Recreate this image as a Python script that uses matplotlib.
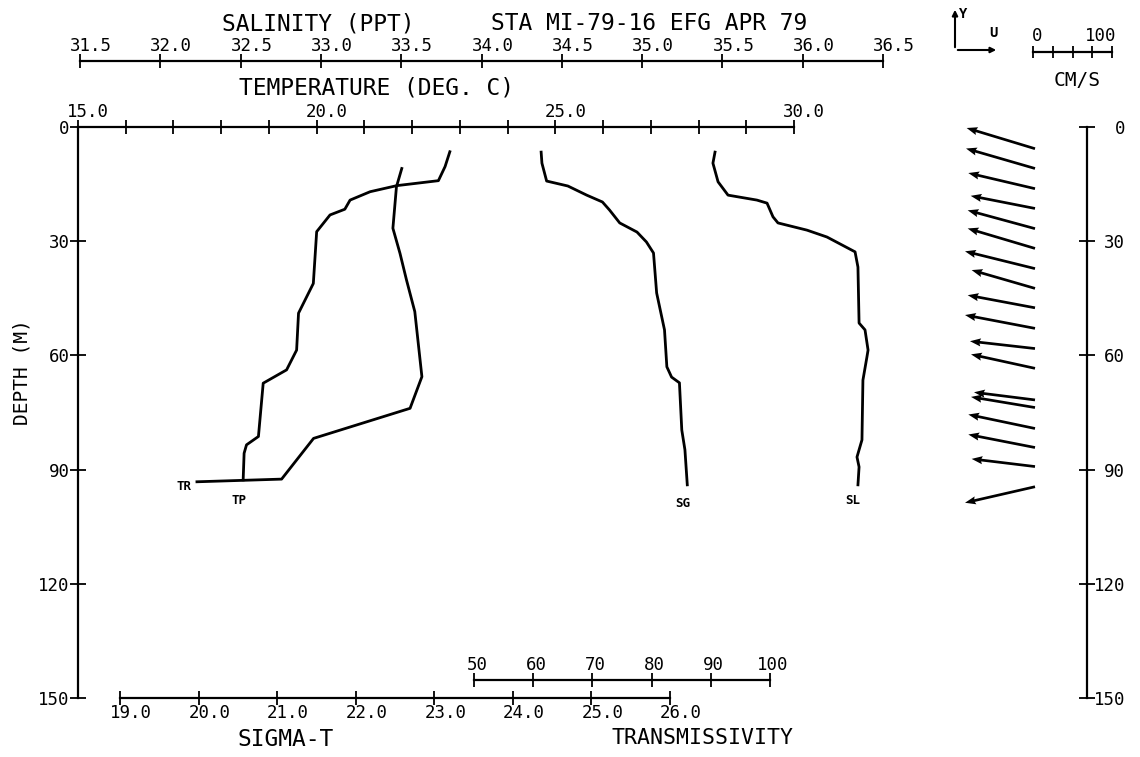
import matplotlib
matplotlib.use("Agg")
import matplotlib.pyplot as plt
from matplotlib.transforms import ScaledTranslation
from matplotlib.patches import FancyArrowPatch
import numpy as np

plt.rcParams['font.family'] = ['DejaVu Sans Mono']

# ---------------- data ----------------
# Temperature profile (TP), deg C vs depth m
tp_temp = [22.79, 22.69, 22.55, 21.68, 21.12, 20.70, 20.59, 20.28, 20.00, 19.93,
           19.62, 19.58, 19.37, 18.88, 18.78, 18.53, 18.48, 18.46]
tp_depth = [6.5, 10.4, 14.1, 15.4, 17.0, 19.2, 21.6, 23.1, 27.5, 41.1,
            48.9, 58.6, 63.8, 67.3, 81.3, 83.5, 85.7, 92.7]

# Transmissivity profile (TR), % vs depth m
tr_val = [37.8, 36.9, 36.3, 37.5, 38.6, 40.0, 41.2, 39.2, 22.9, 17.5, 3.2]
tr_depth = [10.9, 15.7, 26.6, 33.2, 40.2, 48.5, 65.6, 73.9, 81.8, 92.5, 93.2]

# Sigma-t profile (SG)
sg_val = [24.36, 24.37, 24.43, 24.70, 24.94, 25.14, 25.23, 25.36, 25.58, 25.70,
          25.79, 25.83, 25.93, 25.96, 26.02, 26.12, 26.15, 26.19, 26.22]
sg_depth = [6.6, 9.5, 14.2, 15.5, 17.9, 19.7, 21.8, 25.2, 27.6, 30.2,
            33.1, 43.6, 53.3, 63.0, 65.7, 67.2, 79.6, 84.8, 94.0]

# Salinity profile (SL), ppt
sl_val = [35.454, 35.441, 35.473, 35.535, 35.715, 35.778, 35.815, 35.846, 36.027,
          36.151, 36.326, 36.344, 36.351, 36.388, 36.407, 36.400, 36.375, 36.369,
          36.338, 36.351, 36.344]
sl_depth = [6.6, 9.5, 14.4, 17.9, 19.2, 20.0, 23.6, 25.2, 27.1, 28.9, 32.8, 36.8,
            51.5, 53.3, 58.6, 60.4, 66.5, 82.2, 86.7, 89.3, 94.0]

# Current vectors (cm/s) vs depth
cur_depth = [5.7, 10.9, 16.2, 21.4, 26.7, 31.9, 37.2, 42.4, 47.5, 52.9, 58.2,
             63.4, 71.7, 73.7, 79.2, 84.2, 89.2, 94.5]
cur_u = [-86.5, -87.3, -84.4, -81.4, -85.2, -85.2, -88.6, -80.2, -85.2, -88.6,
         -82.3, -81.0, -77.2, -81.0, -84.4, -84.4, -80.2, -88.6]
cur_v = [26.2, 25.3, 19.8, 16.0, 23.2, 25.3, 21.9, 23.2, 16.0, 16.9,
         9.3, 17.7, 9.7, 13.5, 17.7, 16.5, 9.7, -20.3]

depth_ticks = [0, 30, 60, 90, 120, 150]
temp_ticks = list(range(15, 31))
temp_labels = ['15.0' if t == 15 else '20.0' if t == 20 else '25.0' if t == 25
               else '30.0' if t == 30 else '' for t in temp_ticks]
sal_ticks = [31.5, 32.0, 32.5, 33.0, 33.5, 34.0, 34.5, 35.0, 35.5, 36.0, 36.5]
sal_labels = ['%.1f' % s for s in sal_ticks]
sig_ticks = [19.0, 20.0, 21.0, 22.0, 23.0, 24.0, 25.0, 26.0]
sig_labels = ['%.1f' % s for s in sig_ticks]
tr_ticks = [50, 60, 70, 80, 90, 100]
tr_labels = [str(t) for t in tr_ticks]
scale_ticks = [0, 25, 50, 75, 100]

# ---------------- layout helpers ----------------
W, H = 1140, 757
fig = plt.figure(figsize=(W / 100, H / 100), dpi=100)
Y0, Y1 = 127, 698
LW = 2.0
AXLW = 1.6


def rect(x0, x1, y0, y1):
    return [x0 / W, 1 - y1 / H, (x1 - x0) / W, (y1 - y0) / H]


def ftext(x, y, s, **kw):
    return fig.text(x / W, 1 - y / H, s, **kw)


def bare(ax):
    ax.set_facecolor('none')
    for sp in ax.spines.values():
        sp.set_visible(False)
        sp.set_linewidth(AXLW)
    ax.set_yticks([])
    ax.set_xticks([])


def shift_labels(labels, dx_px, dy_px=0):
    off = ScaledTranslation(dx_px / 100, dy_px / 100, fig.dpi_scale_trans)
    for lb in labels:
        lb.set_transform(lb.get_transform() + off)


TICKFS = 12.5

# ---------------- temperature / depth axes ----------------
ax_t = fig.add_axes(rect(78, 794, Y0, Y1))
bare(ax_t)
ax_t.set_xlim(15, 30)
ax_t.set_ylim(150, 0)
ax_t.spines['left'].set_visible(True)
ax_t.spines['top'].set_visible(True)
ax_t.xaxis.set_ticks_position('top')
ax_t.set_xticks(temp_ticks)
ax_t.set_xticklabels(temp_labels, fontsize=TICKFS)
ax_t.tick_params(axis='x', direction='inout', length=10, width=1.3, pad=-1)
shift_labels(ax_t.get_xticklabels(), 10)
ax_t.set_yticks(depth_ticks)
ax_t.set_yticklabels([str(d) for d in depth_ticks], fontsize=TICKFS)
ax_t.tick_params(axis='y', direction='inout', length=12, width=1.3, pad=0)
ax_t.plot(tp_temp, tp_depth, color='black', lw=LW, clip_on=False)

# ---------------- salinity axes ----------------
ax_s = fig.add_axes(rect(80, 883, Y0, Y1))
bare(ax_s)
ax_s.set_xlim(31.5, 36.5)
ax_s.set_ylim(150, 0)
ax_s.spines['top'].set_visible(True)
ax_s.spines['top'].set_position(('axes', 1 + (Y0 - 61) / (Y1 - Y0)))
ax_s.xaxis.set_ticks_position('top')
ax_s.set_xticks(sal_ticks)
ax_s.set_xticklabels(sal_labels, fontsize=TICKFS)
ax_s.tick_params(axis='x', direction='inout', length=10, width=1.3, pad=-1)
shift_labels(ax_s.get_xticklabels(), 11)
ax_s.plot(sl_val, sl_depth, color='black', lw=LW, clip_on=False)

# ---------------- sigma-t axes ----------------
ax_g = fig.add_axes(rect(120, 670, Y0, Y1))
bare(ax_g)
ax_g.set_xlim(19, 26)
ax_g.set_ylim(150, 0)
ax_g.spines['bottom'].set_visible(True)
ax_g.xaxis.set_ticks_position('bottom')
ax_g.set_xticks(sig_ticks)
ax_g.set_xticklabels(sig_labels, fontsize=TICKFS)
ax_g.tick_params(axis='x', direction='inout', length=10, width=1.3, pad=-1)
shift_labels(ax_g.get_xticklabels(), 11)
ax_g.plot(sg_val, sg_depth, color='black', lw=LW, clip_on=False)

# ---------------- transmissivity axes ----------------
ax_r = fig.add_axes(rect(474, 770, Y0, Y1))
bare(ax_r)
ax_r.set_xlim(50, 100)
ax_r.set_ylim(150, 0)
ax_r.spines['top'].set_visible(True)
ax_r.spines['top'].set_position(('axes', (Y1 - 680) / (Y1 - Y0)))
ax_r.xaxis.set_ticks_position('top')
ax_r.set_xticks(tr_ticks)
ax_r.set_xticklabels(tr_labels, fontsize=TICKFS)
ax_r.tick_params(axis='x', direction='inout', length=10, width=1.3, pad=-1)
shift_labels(ax_r.get_xticklabels(), 3)
ax_r.plot(tr_val, tr_depth, color='black', lw=LW, clip_on=False)

# ---------------- curve labels ----------------
LBL = dict(fontsize=9, fontweight='bold', ha='center', va='center',
           textcoords='offset pixels', annotation_clip=False)
ax_r.annotate('TR', (tr_val[-1], tr_depth[-1]), xytext=(-13, -5), **LBL)
ax_t.annotate('TP', (tp_temp[-1], tp_depth[-1]), xytext=(-4, -21), **LBL)
ax_g.annotate('SG', (sg_val[-1], sg_depth[-1]), xytext=(-5, -19), **LBL)
ax_s.annotate('SL', (sl_val[-1], sl_depth[-1]), xytext=(-5, -16), **LBL)

# ---------------- titles ----------------
TFS = 16.5
ftext(318, 24, 'SALINITY (PPT)', fontsize=TFS, ha='center', va='center')
ftext(649, 24, 'STA MI-79-16 EFG APR 79', fontsize=TFS, ha='center', va='center')
ftext(376, 88, 'TEMPERATURE (DEG. C)', fontsize=TFS, ha='center', va='center')
ftext(286, 740, 'SIGMA-T', fontsize=TFS, ha='center', va='center')
ftext(703, 738, 'TRANSMISSIVITY', fontsize=15.5, ha='center', va='center')
ftext(22, 372, 'DEPTH (M)', fontsize=14, ha='center', va='center', rotation=90)

# ---------------- current vectors ----------------
ax_v = fig.add_axes(rect(940, 1087, Y0, Y1))
bare(ax_v)
ax_v.set_xlim(0, 1)
ax_v.set_ylim(150, 0)
ax_v.spines['right'].set_visible(True)
ax_v.yaxis.set_ticks_position('right')
ax_v.set_yticks(depth_ticks)
ax_v.set_yticklabels([str(d) for d in depth_ticks], fontsize=TICKFS, ha='right')
ax_v.tick_params(axis='y', direction='inout', length=12, width=1.3, pad=0)
shift_labels(ax_v.get_yticklabels(), 30)
tail_x = np.full(len(cur_depth), (1035 - 940) / 147)
ax_v.quiver(tail_x, cur_depth, cur_u, cur_v, pivot='tail', angles='uv',
            scale_units='dots', scale=100 / 79, units='dots', width=2.7,
            headwidth=3.0, headlength=4.0, headaxislength=3.6, color='black')

# scale bar
ax_sc = fig.add_axes(rect(1033, 1112, 40, 52))
bare(ax_sc)
ax_sc.set_xlim(0, 100)
ax_sc.spines['bottom'].set_visible(True)
ax_sc.xaxis.set_ticks_position('bottom')
ax_sc.set_xticks(scale_ticks)
ax_sc.set_xticklabels([])
ax_sc.tick_params(axis='x', direction='inout', length=8, width=1.3)
ftext(1037, 36, '0', fontsize=TICKFS, ha='center', va='center')
ftext(1101, 36, '100', fontsize=TICKFS, ha='center', va='center')
ftext(1077, 81, 'CM/S', fontsize=14, ha='center', va='center')

# U / Y direction legend
def fp(x, y):
    return (x / W, 1 - y / H)

fig.add_artist(FancyArrowPatch(fp(955, 50), fp(999, 50), arrowstyle='-|>',
                               mutation_scale=8, lw=1.5, color='black',
                               transform=fig.transFigure))
fig.add_artist(FancyArrowPatch(fp(955, 50), fp(955, 7), arrowstyle='-|>',
                               mutation_scale=8, lw=1.5, color='black',
                               transform=fig.transFigure))
ftext(993, 33, 'U', fontsize=10, fontweight='bold', ha='center', va='center')
ftext(963, 14, 'Y', fontsize=10, fontweight='bold', ha='center', va='center')

fig.savefig('out.png', dpi=100)
